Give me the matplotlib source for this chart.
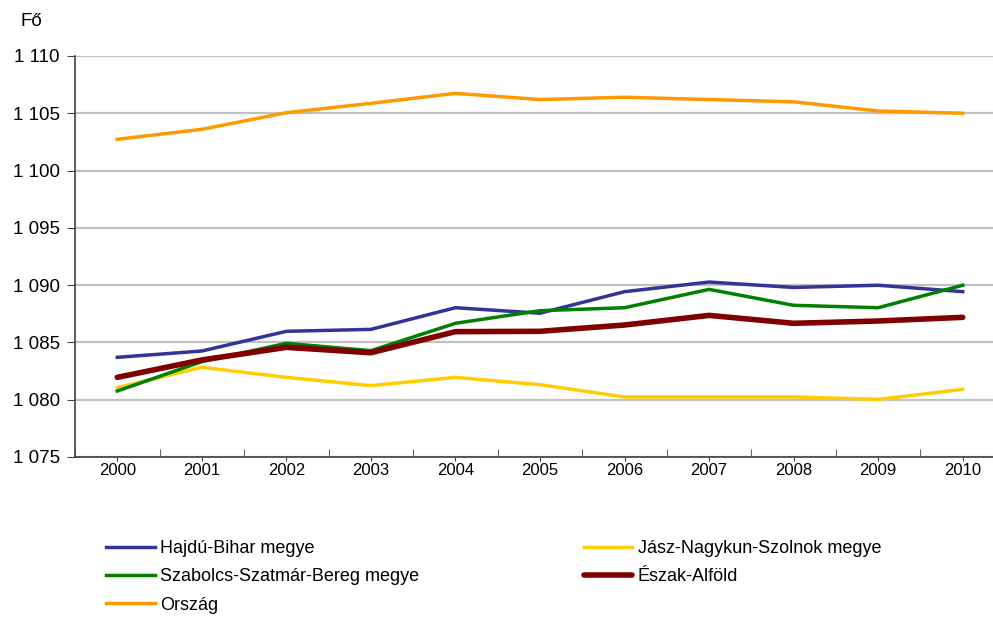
import numpy as np
import matplotlib.pyplot as plt
from matplotlib.ticker import FixedLocator

plt.rcParams['font.family'] = ['Liberation Sans', 'DejaVu Sans']

years = ['2000', '2001', '2002', '2003', '2004', '2005', '2006', '2007', '2008', '2009', '2010']
hajdu = [1083.7, 1084.25, 1085.97, 1086.14, 1088.03, 1087.55, 1089.43, 1090.27, 1089.8, 1089.99, 1089.43]
jasz = [1081.05, 1082.83, 1081.95, 1081.23, 1081.95, 1081.31, 1080.24, 1080.24, 1080.24, 1080.03, 1080.9]
szabolcs = [1080.76, 1083.32, 1084.92, 1084.28, 1086.67, 1087.77, 1088.03, 1089.63, 1088.24, 1088.03, 1089.99]
eszak = [1081.95, 1083.47, 1084.57, 1084.1, 1085.94, 1085.97, 1086.52, 1087.36, 1086.67, 1086.87, 1087.19]
orszag = [1102.73, 1103.6, 1105.05, 1105.87, 1106.74, 1106.2, 1106.4, 1106.2, 1106.0, 1105.2, 1105.0]
yticks = [1075, 1080, 1085, 1090, 1095, 1100, 1105, 1110]
ylabels = ['1 075', '1 080', '1 085', '1 090', '1 095', '1 100', '1 105', '1 110']

fig = plt.figure(figsize=(9.93, 6.17), dpi=100)
ax = fig.add_axes([75/993, 160/617, 930/993, 401/617])

x = np.arange(len(years))
l1, = ax.plot(x, hajdu, color='#333399', lw=2.5, label='Hajdú-Bihar megye')
l2, = ax.plot(x, jasz, color='#FFCC00', lw=2.5, label='Jász-Nagykun-Szolnok megye')
l3, = ax.plot(x, szabolcs, color='#008000', lw=2.5, label='Szabolcs-Szatmár-Bereg megye')
l4, = ax.plot(x, eszak, color='#800000', lw=4.0, label='Észak-Alföld', solid_capstyle='round')
l5, = ax.plot(x, orszag, color='#FF9900', lw=2.5, label='Ország')

ax.set_xlim(-0.5, len(years) - 0.5)
ax.set_ylim(1075, 1110)
ax.set_yticks(yticks)
ax.set_yticklabels(ylabels, fontsize=13.5)
ax.set_xticks(x)
ax.set_xticklabels(years, fontsize=12)
ax.xaxis.set_minor_locator(FixedLocator(np.arange(-0.5, len(years), 1)))
ax.tick_params(axis='x', which='major', direction='out', length=3, pad=1.5, color='#404040')
ax.tick_params(axis='x', which='minor', direction='in', length=6, color='#404040')
ax.tick_params(axis='y', which='major', direction='out', length=6, pad=5, color='#404040')
ax.grid(axis='y', color='#C0C0C0', lw=1.6)
ax.set_axisbelow(True)
for s in ['top', 'right']:
    ax.spines[s].set_visible(False)
for s in ['left', 'bottom']:
    ax.spines[s].set_color('#404040')
    ax.spines[s].set_linewidth(1.2)

fig.text(20/993, 1 - 22/617, 'Fő', fontsize=13.5, va='center')

fig.legend([l1, l3, l5, l2, l4],
           [l1.get_label(), l3.get_label(), l5.get_label(), l2.get_label(), l4.get_label()],
           ncol=2, loc='upper left', bbox_to_anchor=(106/993, 1 - 540/617),
           frameon=False, fontsize=13, handlelength=2.7, handletextpad=0.3,
           columnspacing=9.1, labelspacing=0.63, borderaxespad=0, borderpad=0)

fig.savefig('out.png', dpi=100)
